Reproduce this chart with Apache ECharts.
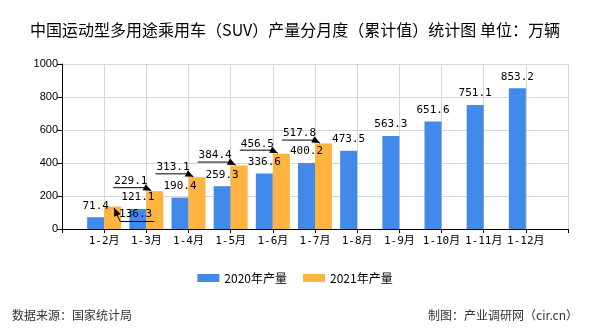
<!DOCTYPE html>
<html>
<head>
<meta charset="utf-8">
<script src="https://cdn.jsdelivr.net/npm/echarts@6/dist/echarts.min.js"></script>
<style>html,body{margin:0;padding:0;background:#fff;}#c{width:590px;height:330px;}</style>
</head>
<body>
<div id="c"></div>
<script>
var months = ['1-2月','1-3月','1-4月','1-5月','1-6月','1-7月','1-8月','1-9月','1-10月','1-11月','1-12月'];
var prod2020 = [71.4, 121.1, 190.4, 259.3, 336.6, 400.2, 473.5, 563.3, 651.6, 751.1, 853.2];
var prod2021 = [136.3, 229.1, 313.1, 384.4, 456.5, 517.8];
var yTicks = [0, 200, 400, 600, 800, 1000];
var seriesNames = ['2020年产量', '2021年产量'];

var BLUE = '#418AEA', ORANGE = '#FDB441';
var MONO = "'DejaVu Sans Mono','Noto Sans CJK SC',monospace";
var CJK = "'Noto Sans CJK SC','Noto Sans',sans-serif";

// padded category axis: empty slot at both ends (axis runs boundary to boundary)
var cats = [''].concat(months).concat(['']);
function pad(arr) {
  var out = ['-'];
  for (var i = 0; i < months.length; i++) out.push(i < arr.length ? arr[i] : '-');
  out.push('-');
  return out;
}
var calloutData = prod2021.map(function (v, i) { return [i + 1, v]; });

var chart = echarts.init(document.getElementById('c'), null, {renderer: 'canvas'});
chart.setOption({
  backgroundColor: '#fff',
  animation: false,
  title: {
    text: '中国运动型多用途乘用车（SUV）产量分月度（累计值）统计图 单位：万辆',
    left: 'center', top: 17,
    textStyle: {fontFamily: CJK, fontSize: 16, fontWeight: 'normal', color: '#000'}
  },
  legend: {
    data: seriesNames,
    left: 'center', top: 267,
    itemWidth: 22, itemHeight: 8, itemGap: 16,
    icon: 'rect',
    textStyle: {fontFamily: CJK, fontSize: 12, color: '#000'}
  },
  grid: {left: 62, right: 22, top: 64, bottom: 101, containLabel: false},
  xAxis: {
    type: 'category',
    data: cats,
    boundaryGap: false,
    axisLine: {lineStyle: {color: '#000', width: 1}},
    axisTick: {show: true, interval: 0, length: 4, lineStyle: {color: '#000'}},
    axisLabel: {interval: 0, margin: 7, fontFamily: MONO, fontSize: 11, color: '#000'},
    splitLine: {show: true, interval: 0, lineStyle: {color: '#d6d6d6', width: 1}}
  },
  yAxis: {
    type: 'value',
    min: yTicks[0], max: yTicks[yTicks.length - 1], interval: yTicks[1] - yTicks[0],
    axisLine: {show: true, lineStyle: {color: '#000', width: 1}},
    axisTick: {show: true, length: 5, lineStyle: {color: '#000'}},
    axisLabel: {margin: 4, fontFamily: "'Liberation Sans',Arial,sans-serif", fontSize: 11, color: '#000',
      formatter: function (v) { return String(v); }},
    splitLine: {show: true, lineStyle: {color: '#d6d6d6', width: 1}}
  },
  series: [
    {
      name: seriesNames[0], type: 'bar', data: pad(prod2020),
      barWidth: 17, barGap: '0%',
      itemStyle: {color: BLUE},
      label: {show: true, position: 'top', distance: 6, fontFamily: MONO, fontSize: 11, color: '#000',
        formatter: function (p) { return p.value.toFixed(1); }}
    },
    {
      name: seriesNames[1], type: 'bar', data: pad(prod2021),
      barWidth: 17, barGap: '0%',
      itemStyle: {color: ORANGE}
    },
    {
      name: 'callout', type: 'custom', data: calloutData, z: 10, clip: false,
      encode: {x: 0, y: 1},
      renderItem: function (params, api) {
        var idx = api.value(0), v = api.value(1);
        var p = api.coord([idx, v]);
        var tick = p[0], top = p[1];
        var oc = tick + 8.5;
        var txt = v.toFixed(1);
        var w = 33;
        var cx, cy, pts, tip, from;
        if (params.dataIndex === 0) {
          cx = oc + 23; cy = top + 8;
          var uy = top + 15;
          tip = [tick + 10, top + 1.5];
          pts = [[cx + w / 2 + 2, uy], [tick + 16, uy], tip];
          from = [tick + 16, uy];
        } else {
          cx = oc - 24; cy = top - 10;
          var uy2 = top - 3.5;
          tip = [tick + 5, top - 0.5];
          from = [tick - 1, uy2];
          pts = [[cx - w / 2 - 1, uy2], from, tip];
        }
        var dx = tip[0] - from[0], dy = tip[1] - from[1];
        var L = Math.sqrt(dx * dx + dy * dy); dx /= L; dy /= L;
        var al = 8, aw = 3.5;
        var bx = tip[0] - dx * al, by = tip[1] - dy * al;
        var head = [tip, [bx - dy * aw, by + dx * aw], [bx + dy * aw, by - dx * aw]];
        return {
          type: 'group',
          children: [
            {type: 'polyline', shape: {points: pts}, style: {stroke: '#000', lineWidth: 1, fill: null}},
            {type: 'polygon', shape: {points: head}, style: {fill: '#000'}},
            {type: 'text', x: cx, y: cy, style: {text: txt, fontFamily: MONO, fontSize: 11, fill: '#000',
              align: 'center', verticalAlign: 'middle'}}
          ]
        };
      }
    }
  ],
  graphic: [
    {type: 'text', left: 12, top: 309, style: {text: '数据来源：国家统计局', fontFamily: CJK, fontSize: 12, fill: '#333'}},
    {type: 'text', right: 12, top: 309, style: {text: '制图：产业调研网（cir.cn）', fontFamily: CJK, fontSize: 12, fill: '#333'}}
  ]
});
</script>
</body>
</html>
